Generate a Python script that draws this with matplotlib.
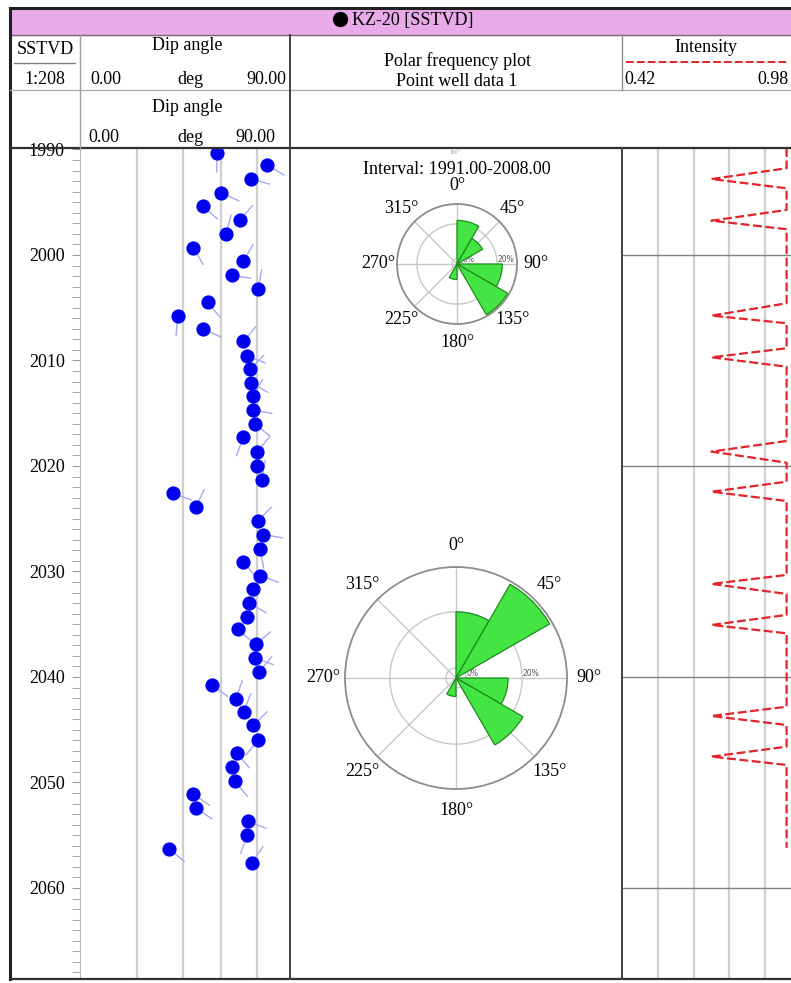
import numpy as np
import matplotlib.pyplot as plt

plt.rcParams['font.family'] = ['Liberation Serif', 'DejaVu Serif']

# tadpole data: depth (m), dip (deg), dip azimuth (deg)
dip_depth = [1990.3, 1991.5, 1992.8, 1994.1, 1995.4, 1996.7, 1998.0, 1999.3, 2000.6, 2001.9,
             2003.2, 2004.5, 2005.8, 2007.0, 2008.2, 2009.6, 2010.8, 2012.1, 2013.4, 2014.7,
             2016.0, 2017.3, 2018.7, 2020.0, 2021.3, 2022.6, 2023.9, 2025.2, 2026.5, 2027.9,
             2029.1, 2030.4, 2031.7, 2033.0, 2034.3, 2035.5, 2036.9, 2038.2, 2039.5, 2040.8,
             2042.1, 2043.3, 2044.6, 2046.0, 2047.2, 2048.5, 2049.9, 2051.1, 2052.4, 2053.7,
             2055.0, 2056.3, 2057.6]
dip_angle = [58.6, 80.3, 73.2, 60.6, 52.6, 68.6, 62.6, 48.6, 70.0, 65.0,
             76.4, 54.7, 41.9, 52.8, 70.0, 71.6, 72.9, 73.3, 74.1, 74.1,
             75.0, 69.9, 75.7, 75.7, 77.9, 40.0, 49.7, 76.2, 78.6, 77.3,
             70.0, 77.3, 74.0, 72.6, 71.4, 67.6, 75.3, 75.0, 76.8, 56.6,
             66.7, 70.3, 74.3, 76.4, 67.2, 65.0, 66.4, 48.6, 49.7, 71.9,
             71.7, 38.3, 73.6]
dip_azimuth = [180, 120, 105, 115, 130, 40, 15, 150, 30, 100,
               10, 140, 185, 115, 40, 110, 45, 120, 30, 100,
               130, 200, 40, 20, 10, 110, 25, 45, 100, 170,
               140, 110, 40, 120, 20, 130, 50, 110, 40, 125,
               20, 20, 45, 220, 140, 30, 140, 125, 125, 110,
               200, 130, 35]

# rose diagrams: percentage per 30 deg sector, starting at north
rose_bins = np.arange(0, 360, 30)
rose1_pct = [22, 14, 0, 23, 30.5, 0, 6, 0, 0, 0, 0, 0]
rose2_pct = [20, 35, 0, 15, 24, 0, 3, 0, 0, 0, 0, 0]

# intensity curve
int_depth = [1989.86, 1991.78, 1992.80, 1993.68, 1995.73, 1996.75, 1997.56, 2004.58, 2005.75, 2006.47,
             2008.84, 2009.70, 2010.59, 2017.63, 2018.64, 2019.69, 2021.49, 2022.44, 2023.32, 2030.33,
             2031.18, 2032.13, 2034.12, 2035.07, 2035.86, 2042.82, 2043.70, 2044.55, 2046.61, 2047.55,
             2048.34, 2056.20]
int_value = [0.935, 0.935, 0.70, 0.935, 0.935, 0.70, 0.935, 0.935, 0.70, 0.935,
             0.935, 0.70, 0.935, 0.935, 0.70, 0.935, 0.935, 0.70, 0.935, 0.935,
             0.70, 0.935, 0.935, 0.70, 0.935, 0.935, 0.70, 0.935, 0.935, 0.70,
             0.935, 0.935]

W, H = 791, 983
top_depth, bot_depth = 1989.86, 2068.63


def box(x0, y0, x1, y1):
    return [x0 / W, 1 - y1 / H, (x1 - x0) / W, (y1 - y0) / H]


fig = plt.figure(figsize=(W / 100, H / 100), dpi=100)

# ---- dip track (also carries the depth scale)
ax = fig.add_axes(box(80, 148, 290, 979))
ax.set_xlim(0, 90)
ax.set_ylim(bot_depth, top_depth)
for g in [24.4, 44.1, 60.4, 75.9]:
    ax.axvline(g, color='#cfcfcf', lw=1.6, zorder=0)
for s in ['top', 'bottom', 'right']:
    ax.spines[s].set_visible(False)
ax.spines['left'].set_color('#bbbbbb')
ax.set_xticks([])
ax.set_yticks(np.arange(1990, 2061, 10))
ax.set_yticks(np.arange(1990, 2069, 1), minor=True)
ax.tick_params(axis='y', which='both', direction='out', length=6, color='#999999',
               labelsize=13, pad=5)
for d, a, az in zip(dip_depth, dip_angle, dip_azimuth):
    L = 14
    ax.annotate('', xy=(a, d), xytext=(L * np.sin(np.radians(az)), L * np.cos(np.radians(az))),
                textcoords='offset points',
                arrowprops=dict(arrowstyle='-', color='#a8a8f2', lw=1.0, shrinkA=0, shrinkB=0),
                zorder=2)
ax.scatter(dip_angle, dip_depth, s=105, color='#0000f0', zorder=3, linewidths=0)

# ---- intensity track
ax2 = fig.add_axes(box(622, 148, 801, 979))
ax2.set_xlim(0.42, 0.98)
ax2.set_ylim(bot_depth, top_depth)
for g in np.linspace(0.42, 0.98, 6)[1:-1]:
    ax2.axvline(g, color='#d0d0d0', lw=1.6, zorder=0)
for d in [2000, 2020, 2040, 2060]:
    ax2.axhline(d, color='#808080', lw=1.0, zorder=1)
ax2.plot(int_value, int_depth, color='#e3242b', lw=1.6, ls=(0, (4, 1.6)), zorder=3)
for s in ['top', 'bottom', 'right', 'left']:
    ax2.spines[s].set_visible(False)
ax2.set_xticks([])
ax2.set_yticks([])


# ---- rose diagrams
def rose(rect, pct, rmin, rmax, pad):
    r = fig.add_axes(rect, projection='polar')
    r.set_theta_zero_location('N')
    r.set_theta_direction(-1)
    r.set_ylim(rmin, rmax)
    pct = np.array(pct, dtype=float)
    keep = pct > 0
    r.bar(np.radians(rose_bins[keep] + 15), pct[keep] - rmin, width=np.radians(30), bottom=rmin,
          color='#44e444', edgecolor='#1c8c1c', lw=0.9, zorder=3)
    r.set_thetagrids(np.arange(0, 360, 45), [f'{t}\u00b0' for t in range(0, 360, 45)],
                     fontsize=13)
    r.tick_params(axis='x', pad=pad)
    r.set_rgrids([0, 20], ['0%', '20%'], angle=90, fontsize=5.5, color='#555555',
                 family='DejaVu Sans')
    r.grid(color='#c8c8c8', lw=1.0)
    r.spines['polar'].set_color('#8c8c8c')
    r.spines['polar'].set_linewidth(1.3)
    return r


rose(box(397, 204, 517, 324), rose1_pct, -2.9, 31.4, 3)
rose(box(345, 567, 567, 789), rose2_pct, -3.6, 36, 5)

# ---- frame / header drawn in pixel coordinates
fr = fig.add_axes([0, 0, 1, 1], zorder=10)
fr.set_xlim(0, W)
fr.set_ylim(H, 0)
fr.axis('off')
fr.patch.set_visible(False)

fr.fill_between([10, W], 8, 35, color='#e8aae8', zorder=0)
fr.plot([10, W], [8, 8], color='#202020', lw=2.2)
fr.plot([10, W], [35, 35], color='#707070', lw=1.0)
fr.plot([10, 10], [8, 979], color='#202020', lw=2.2)
fr.plot([10, W], [90, 90], color='#b0b0b0', lw=1.0)
fr.plot([10, W], [148, 148], color='#303030', lw=1.6)
fr.plot([10, W], [979, 979], color='#303030', lw=1.6)
fr.plot([80, 80], [35, 148], color='#a0a0a0', lw=1.0)
fr.plot([290, 290], [35, 979], color='#404040', lw=1.4)
fr.plot([622, 622], [35, 90], color='#909090', lw=1.0)
fr.plot([622, 622], [148, 979], color='#404040', lw=1.4)
fr.plot([14, 75], [63, 63], color='#808080', lw=1.0)
fr.plot([626, 789], [62, 62], color='#e3242b', lw=1.4, ls=(0, (4, 1.6)))

fr.plot([340], [19], 'o', color='black', ms=10)
fr.text(352, 20, 'KZ-20 [SSTVD]', fontsize=13, va='center', ha='left')
fr.text(45, 49, 'SSTVD', fontsize=13, va='center', ha='center')
fr.text(45, 80, '1:208', fontsize=13, va='center', ha='center')
fr.text(187, 45, 'Dip angle', fontsize=13, va='center', ha='center')
fr.text(90, 79, '0.00', fontsize=13, va='center', ha='left')
fr.text(190, 80, 'deg', fontsize=13, va='center', ha='center')
fr.text(286, 79, '90.00', fontsize=13, va='center', ha='right')
fr.text(187, 107, 'Dip angle', fontsize=13, va='center', ha='center')
fr.text(88, 137, '0.00', fontsize=13, va='center', ha='left')
fr.text(190, 138, 'deg', fontsize=13, va='center', ha='center')
fr.text(255, 137, '90.00', fontsize=13, va='center', ha='center')
fr.text(457, 61, 'Polar frequency plot', fontsize=13, va='center', ha='center')
fr.text(457, 81, 'Point well data 1', fontsize=13, va='center', ha='center')
fr.text(706, 47, 'Intensity', fontsize=13, va='center', ha='center')
fr.text(624, 80, '0.42', fontsize=13, va='center', ha='left')
fr.text(789, 80, '0.98', fontsize=13, va='center', ha='right')
fr.text(457, 169, 'Interval: 1991.00-2008.00', fontsize=13, va='center', ha='center')
fr.text(455, 153, '180\u00b0', fontsize=4, va='center', ha='center', color='#999999')

fig.savefig('out.png', dpi=100)
